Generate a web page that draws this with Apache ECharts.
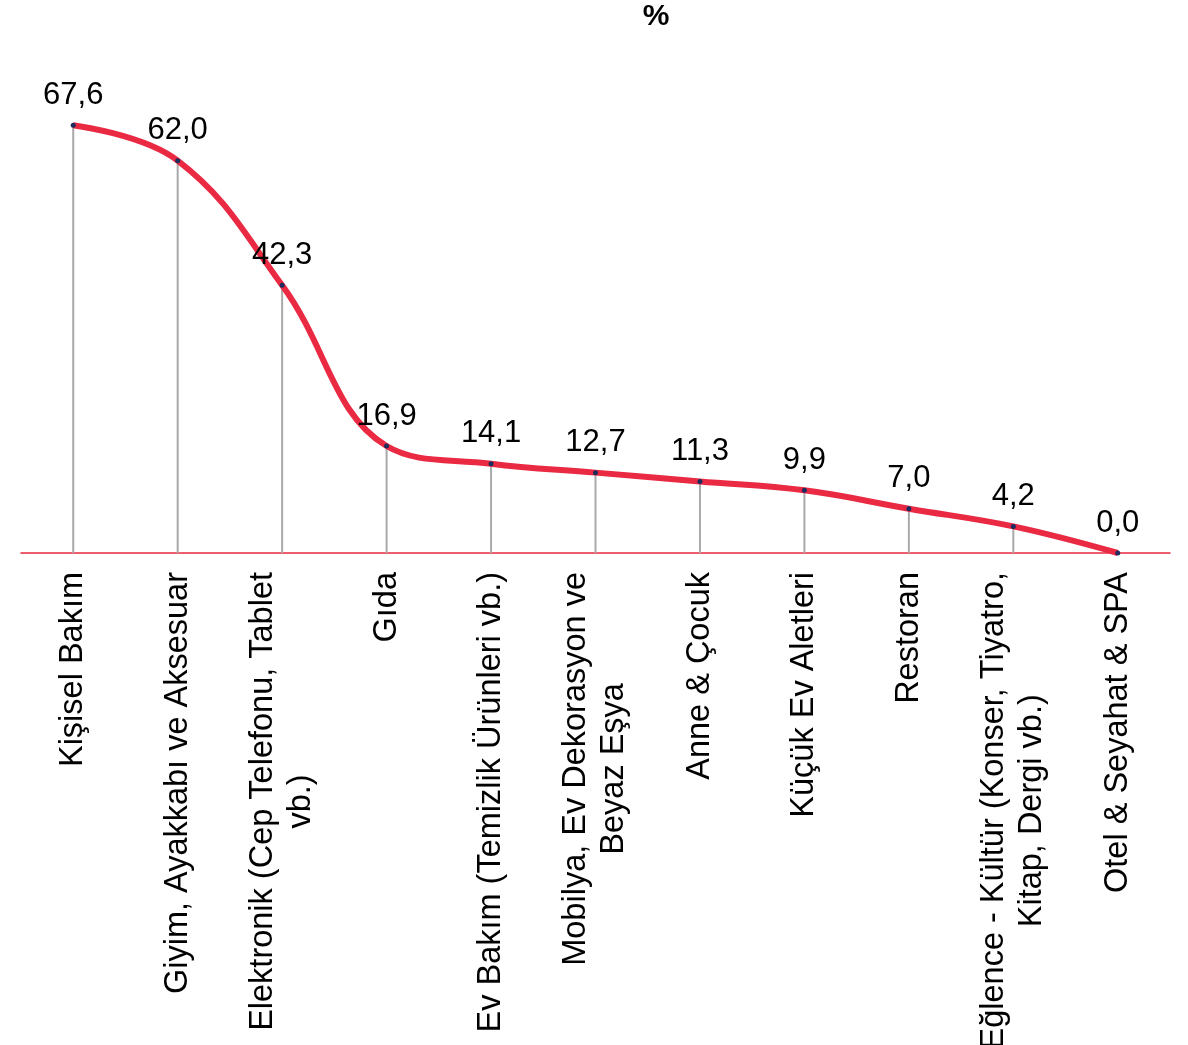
<!DOCTYPE html>
<html>
<head>
<meta charset="utf-8">
<script src="https://cdn.jsdelivr.net/npm/echarts@6/dist/echarts.min.js"></script>
<style>
html,body{margin:0;padding:0;background:#ffffff;}
#chart{width:1188px;height:1045px;}
</style>
</head>
<body>
<div id="chart"></div>
<script>
const categories = [
  'Kişisel Bakım',
  'Giyim, Ayakkabı ve Aksesuar',
  'Elektronik (Cep Telefonu, Tablet\nvb.)',
  'Gıda',
  'Ev Bakım (Temizlik Ürünleri vb.)',
  'Mobilya, Ev Dekorasyon ve\nBeyaz Eşya',
  'Anne & Çocuk',
  'Küçük Ev Aletleri',
  'Restoran',
  'Eğlence - Kültür (Konser, Tiyatro,\nKitap, Dergi vb.)',
  'Otel & Seyahat & SPA'
];
const values = [67.6, 62.0, 42.3, 16.9, 14.1, 12.7, 11.3, 9.9, 7.0, 4.2, 0.0];
const titleText = '%';

const FONT = 'Liberation Sans, Arial, sans-serif';
const chart = echarts.init(document.getElementById('chart'), null, {renderer: 'canvas'});
chart.setOption({
  backgroundColor: '#ffffff',
  animation: false,
  title: {
    text: titleText,
    left: 651,
    textAlign: 'center',
    top: -3,
    textStyle: {fontFamily: FONT, fontSize: 30, fontWeight: 'bold', color: '#000'}
  },
  grid: {left: 21, right: 18, top: 110, bottom: 492, containLabel: false, outerBoundsMode: 'none'},
  xAxis: {
    type: 'category',
    data: categories,
    boundaryGap: true,
    axisLine: {show: true, lineStyle: {color: '#e8283f', width: 1.5}},
    axisTick: {show: false},
    axisLabel: {
      rotate: 90,
      margin: 19,
      interval: 0,
      hideOverlap: false,
      fontFamily: FONT,
      fontSize: 32.5,
      color: '#000',
      lineHeight: 38,
      formatter: function (v) {
        return v.split('\n').map(function (s) { return '{c|' + s + '}'; }).join('\n');
      },
      rich: {
        c: {align: 'center', fontFamily: FONT, fontSize: 32.5, lineHeight: 38, color: '#000'}
      }
    },
    splitLine: {show: false}
  },
  yAxis: {
    type: 'value',
    min: 0,
    max: 70,
    show: false,
    splitLine: {show: false}
  },
  series: [
    {
      type: 'bar',
      data: values,
      barWidth: 2,
      itemStyle: {color: '#a9a9a9'},
      silent: true,
      z: 1
    },
    {
      type: 'line',
      data: values,
      smooth: 0.4,
      symbol: 'circle',
      symbolSize: 5,
      lineStyle: {color: '#ea2a43', width: 6},
      itemStyle: {color: '#1d2b5e'},
      label: {
        show: true,
        position: 'top',
        distance: 12,
        fontFamily: FONT,
        fontSize: 31,
        color: '#000',
        formatter: function (p) { return p.value.toFixed(1).replace('.', ','); }
      },
      z: 3
    }
  ]
});
</script>
</body>
</html>
